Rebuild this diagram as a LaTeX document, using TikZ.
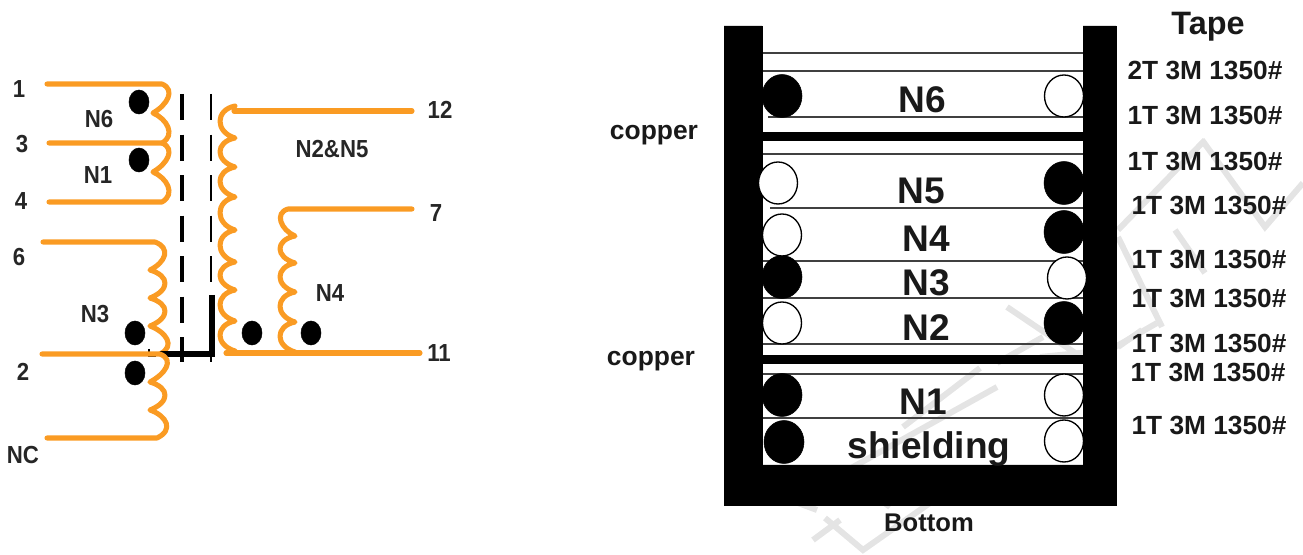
\documentclass[tikz,border=0pt]{standalone}
\usepackage{tikz}
\usepackage{xcolor}
\usepackage{fontspec}
\setmainfont{Liberation Sans}

\definecolor{coilorange}{RGB}{250,155,35}
\definecolor{markgray}{RGB}{228,228,228}

\tikzset{
	wire/.style={draw=coilorange, line width=3.8pt, line cap=round, line join=round},
	lbl/.style={font=\bfseries\fontsize{18.5}{18.5}\selectfont, inner sep=0pt, xscale=0.9, transform shape, text=black!85},
	big/.style={font=\bfseries\fontsize{27.8}{28}\selectfont, inner sep=0pt, text=black!90},
	tape/.style={font=\bfseries\fontsize{19.7}{20}\selectfont, inner sep=0pt, text=black!90},
	side/.style={font=\bfseries\fontsize{19.8}{20}\selectfont, inner sep=0pt, text=black!90},
	thin line/.style={draw=black!75, line width=0.9pt},
	turn/.style={draw=black, line width=1pt, fill=white},
	dot/.style={fill=black},
	shield/.style={black, dash pattern=on 19.5pt off 10.9pt},
	mark stroke/.style={draw=markgray, line width=4.5pt}
}

% hump of a coil, bulging right: depth, then end point
\newcommand{\humpR}[3]{.. controls +(#1,6) and +(#1,-8) .. (#2,#3)}
% hump of a coil, bulging left
\newcommand{\humpL}[3]{.. controls +(-#1,4) and +(-#1,-6) .. (#2,#3)}

\begin{document}
\begin{tikzpicture}[x=0.75pt, y=-0.75pt]
	\useasboundingbox (0,0) rectangle (1303,555);

	% watermark
	\draw[mark stroke] (1007,307) -- (1090,363);
	\draw[mark stroke] (1157,323) -- (1110,350) -- (1040,357);
	\draw[mark stroke] (1118,237) -- (1162,327);
	\draw[mark stroke] (1118,230) -- (1205,140);
	\draw[mark stroke] (1202,140) -- (1265,227) -- (1303,183);
	\draw[mark stroke] (1175,230) -- (1205,273);
	\draw[mark stroke] (1118,347) -- (1142,330);
	\draw[mark stroke] (997,387) -- (817,487);
	\draw[mark stroke] (980,368) -- (903,427);
	\draw[mark stroke] (850,477) -- (890,507);
	\draw[mark stroke] (790,500) -- (817,510);
	\draw[mark stroke] (825,518) -- (863,550) -- (937,498);
	\draw[mark stroke] (813,540) -- (840,520);
	\draw[mark stroke] (997,363) -- (1043,337);

	% left windings
	\draw[wire] (47,84) -- (162,84) \humpR{14}{153}{113} \humpR{14}{162}{143} -- (49,143);
	\draw[wire] (162,143) \humpR{14}{153}{172} \humpR{14}{162}{202} -- (49,202);
	\draw[wire] (43,242) -- (155,242) \humpR{16}{150}{270} \humpR{20}{150}{298} \humpR{20}{150}{326} \humpR{16}{160}{354};

	% shield
	\draw[shield, line width=2.5pt] (182,94) -- (182,362);
	\draw[shield, line width=2pt] (211,94) -- (211,362);
	\draw[black, line width=4pt] (212,295) -- (212,354) -- (160,354);
	\draw[black, line width=1pt] (149,349) -- (149,356) -- (156,356);

	\draw[wire] (42,354) -- (160,354) \humpR{15}{150}{382} \humpR{20}{150}{410} \humpR{17}{157}{438} -- (47,438);

	% right windings
	\draw[wire] (412,111) -- (234,111);
	\draw[wire] (235,106) \humpL{20}{235}{138} \humpL{20}{235}{167} \humpL{20}{235}{197} \humpL{20}{235}{230} \humpL{20}{235}{262} \humpL{20}{235}{290} \humpL{20}{235}{321} \humpL{20}{235}{351};
	\draw[wire] (412,209) -- (288,209) \humpL{14}{295}{236} \humpL{20}{295}{263} \humpL{20}{295}{292} \humpL{20}{295}{322} \humpL{20}{295}{352};
	\draw[wire] (226,353) -- (420,353);

	% phase dots
	\foreach \px/\py in {139/102, 139/160, 135/333, 135/373, 252/333, 311/333}
		\filldraw[dot] (\px,\py) ellipse (10 and 12);

	% pins
	\node[lbl] (pinA) at (19,89) {1};
	\node[lbl] (pinC) at (22,144) {3};
	\node[lbl] (pinD) at (21,201) {4};
	\node[lbl] (pinF) at (19,257) {6};
	\node[lbl] (pinB) at (23,372) {2};
	\node[lbl] (pinNC) at (23,455) {NC};
	\node[lbl] (pinL) at (440,110) {12};
	\node[lbl] (pinG) at (436,213) {7};
	\node[lbl] (pinK) at (439,353) {11};
	\node[lbl] (lblsix) at (99,119) {N6};
	\node[lbl] (lblone) at (98,175) {N1};
	\node[lbl] (lblthree) at (95,314) {N3};
	\node[lbl] (lbltwofive) at (332,149) {N2\&N5};
	\node[lbl] (lblfour) at (330,293) {N4};

	% layers of the stack
	\foreach \ly in {53, 71, 154, 261, 298, 344, 374, 418}
		\draw[thin line] (760,\ly) -- (1085,\ly);
	\draw[thin line] (768,117) -- (1085,117);
	\draw[thin line] (770,208) -- (1085,208);
	\filldraw[black] (760,132) rectangle (1085,140);
	\filldraw[black] (760,355) rectangle (1085,363);

	% bobbin
	\filldraw[black] (724,26) -- (762,26) -- (762,465) -- (1083,465) -- (1083,26) -- (1116,26) -- (1116,505) -- (724,505) -- cycle;

	% turns
	\foreach \tx/\ty in {782/96, 1064/183, 1064/232, 782/277, 1064/323, 782/395, 784/442}
		\filldraw[black] (\tx,\ty) ellipse (20 and 21.5);
	\foreach \tx/\ty in {1064/96, 778/183, 782/235, 1067/278, 782/323, 1064/395, 1064/441}
		\filldraw[turn] (\tx,\ty) ellipse (19.5 and 21);

	\node[big] (layersix) at (922,100) {N6};
	\node[big] (layerfive) at (921,191) {N5};
	\node[big] (layerfour) at (926,239) {N4};
	\node[big] (layerthree) at (926,283) {N3};
	\node[big] (layertwo) at (926,328) {N2};
	\node[big] (layerone) at (923,402) {N1};
	\node[big] (layershield) at (929,449) {shielding};
	\node[side, font=\bfseries\fontsize{19.2}{20}\selectfont] (bottom) at (929,523) {Bottom};
	\node[side] (coppertop) at (654,135) {copper};
	\node[side] (copperlow) at (651,361) {copper};
	\node[big, font=\bfseries\fontsize{24.3}{25}\selectfont] (tapehead) at (1208,27) {Tape};

	\node[tape] (tapeA) at (1205,70) {2T 3M 1350\#};
	\node[tape] (tapeB) at (1205,115) {1T 3M 1350\#};
	\node[tape] (tapeC) at (1205,161) {1T 3M 1350\#};
	\node[tape] (tapeD) at (1209,205) {1T 3M 1350\#};
	\node[tape] (tapeE) at (1209,259) {1T 3M 1350\#};
	\node[tape] (tapeF) at (1209,298) {1T 3M 1350\#};
	\node[tape] (tapeG) at (1209,343) {1T 3M 1350\#};
	\node[tape] (tapeH) at (1208,372) {1T 3M 1350\#};
	\node[tape] (tapeI) at (1209,425) {1T 3M 1350\#};
\end{tikzpicture}
\end{document}
